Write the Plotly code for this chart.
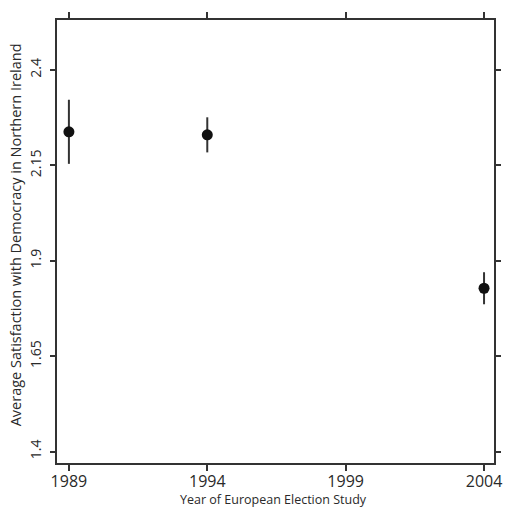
import plotly.graph_objects as go

years = [1989, 1994, 2004]
means = [2.238, 2.230, 1.828]
errors = [0.084, 0.046, 0.042]
x_ticks = [1989, 1994, 1999, 2004]
y_ticks = [1.4, 1.65, 1.9, 2.15, 2.4]
y_tick_text = ["1.4", "1.65", "1.9", "2.15", "2.4"]

font_family = "Open Sans, DejaVu Sans, sans-serif"
ink = "#2a2a2a"

fig = go.Figure()
fig.add_trace(go.Scatter(
    x=years, y=means, mode="markers",
    marker=dict(size=11, color="#111111"),
    error_y=dict(type="data", array=errors, visible=True, thickness=2, width=0, color="#333333"),
    showlegend=False,
))

fig.update_layout(
    width=514, height=511,
    margin=dict(l=57, r=13, t=20, b=48),
    paper_bgcolor="white", plot_bgcolor="white",
    font=dict(family=font_family, color=ink),
    xaxis=dict(
        range=[1988.57, 2004.36], tickvals=x_ticks, ticktext=[str(v) for v in x_ticks],
        showline=True, linecolor="#333333", linewidth=2, mirror="ticks",
        ticks="outside", ticklen=6, tickwidth=2, tickcolor="#333333",
        showgrid=False, zeroline=False, tickfont=dict(size=16, color=ink),
        ticklabelstandoff=-3,
    ),
    yaxis=dict(
        range=[1.370, 2.531], tickvals=y_ticks, ticktext=y_tick_text,
        showline=True, linecolor="#333333", linewidth=2, mirror="ticks",
        ticks="outside", ticklen=5, tickwidth=2, tickcolor="#333333",
        showgrid=False, zeroline=False, tickangle=-90,
        tickfont=dict(size=14, color=ink), ticklabelstandoff=3,
    ),
    annotations=[
        dict(text="Year of European Election Study", xref="paper", yref="paper",
             x=0.495, y=-0.107, xanchor="center", yanchor="bottom", showarrow=False,
             font=dict(size=12.5, color=ink)),
        dict(text="Average Satisfaction with Democracy in Northern Ireland", xref="paper", yref="paper",
             x=-0.095, y=0.515, xanchor="center", yanchor="middle", showarrow=False,
             textangle=-90, font=dict(size=14.5, color=ink)),
    ],
)

fig.write_html("out.html")
